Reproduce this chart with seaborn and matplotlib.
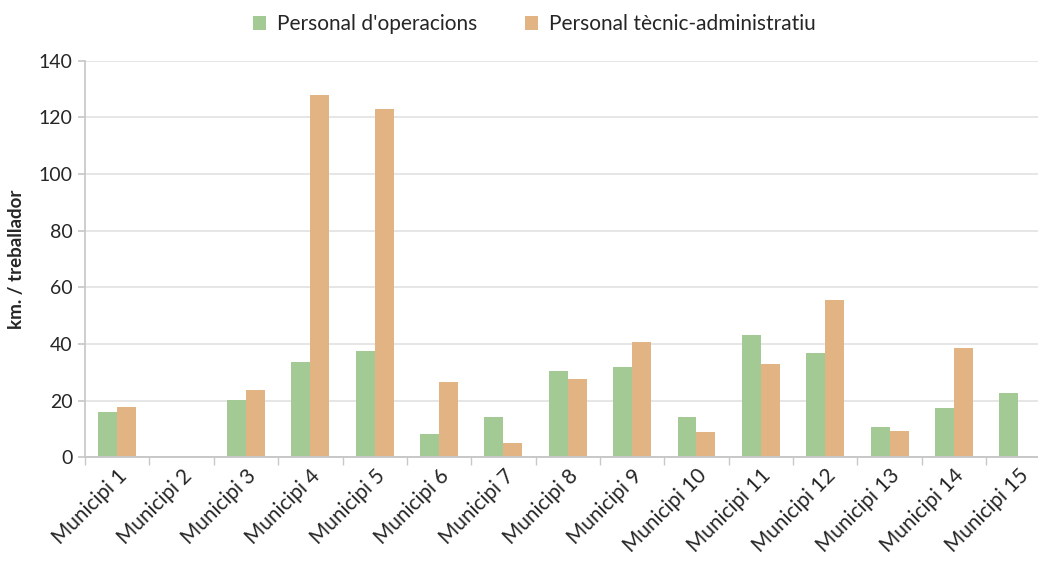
import pandas as pd
import numpy as np
import matplotlib.pyplot as plt
import seaborn as sns

sns.set_theme(style="white")
plt.rcParams['font.family'] = ['Lato', 'DejaVu Sans']

municipis = [f"Municipi {i}" for i in range(1, 16)]
operacions = [15.8, 0, 20.2, 33.5, 37.6, 8.3, 14.1, 30.6, 31.7, 14.1, 43.3, 36.9, 10.5, 17.2, 22.8]
tecnic = [17.8, 0, 23.6, 127.8, 123.0, 26.6, 4.9, 27.7, 40.8, 8.8, 32.9, 55.6, 9.3, 38.7, 0]
series = ["Personal d'operacions", "Personal tècnic-administratiu"]

df = pd.DataFrame({
    'municipi': municipis * 2,
    'valor': operacions + tecnic,
    'serie': [series[0]] * len(municipis) + [series[1]] * len(municipis),
})

fig = plt.figure(figsize=(10.38, 5.63), dpi=100)
ax = fig.add_axes([0.082, 0.188, 0.93, 0.704])

sns.barplot(data=df, x='municipi', y='valor', hue='serie',
            palette=['#A3C994', '#E2B484'], width=0.59, dodge=True,
            edgecolor='none', linewidth=0, saturation=1, ax=ax)

ax.set_ylim(0, 140)
ax.set_yticks(range(0, 141, 20))
ax.set_xlim(-0.5, 14.3)
ax.yaxis.grid(True, color='#e2e2e2', linewidth=1.2)
ax.set_axisbelow(True)

for s in ['top', 'right']:
    ax.spines[s].set_visible(False)
ax.spines['left'].set_color('#c8c8c8')
ax.spines['bottom'].set_color('#c8c8c8')
ax.spines['bottom'].set_linewidth(1.4)

# ticks between categories like in excel
ax.set_xticks(np.arange(len(municipis)))
ax.set_xticklabels(municipis, rotation=45, ha='right', rotation_mode='anchor', fontsize=15)
ax.set_xticks(np.arange(-0.5, len(municipis), 1), minor=True)
ax.tick_params(axis='x', which='major', length=0, pad=6)
ax.tick_params(axis='x', which='minor', length=6, color='#c8c8c8', bottom=True)
ax.tick_params(axis='y', length=5, color='#c8c8c8', left=True, labelsize=14, pad=4)

ax.set_xlabel('')
ax.set_ylabel('km. / treballador', fontsize=13.5, fontweight='bold', labelpad=10)

ax.legend(loc='upper center', bbox_to_anchor=(0.465, 1.165), ncol=2, frameon=False,
          fontsize=15, handlelength=0.65, handleheight=0.65, columnspacing=2.3, handletextpad=0.5)

fig.savefig('out.png', dpi=100)
